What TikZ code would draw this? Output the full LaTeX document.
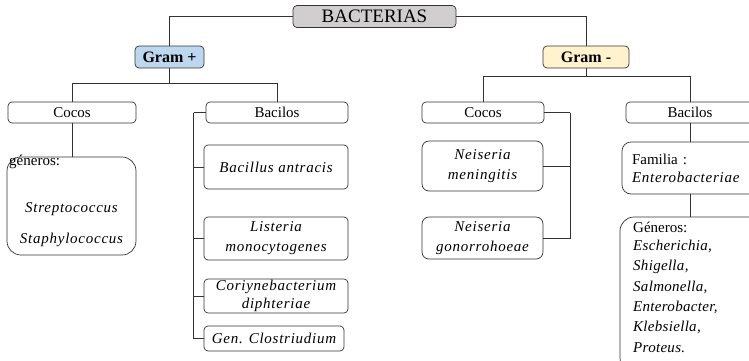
\documentclass[tikz,border=0pt]{standalone}
\usepackage{fontspec}
\setmainfont{Liberation Serif}
\newfontfamily\espfam[LetterSpace=5]{Liberation Serif}
\newfontfamily\espfamb[LetterSpace=2]{Liberation Serif}
\newcommand{\itsp}{\espfam\itshape}
\newcommand{\itspb}{\espfamb\itshape}
\usetikzlibrary{positioning, calc}
\definecolor{grisbox}{RGB}{208,206,206}
\definecolor{azulbox}{RGB}{189,215,238}
\definecolor{amarbox}{RGB}{255,242,204}

\begin{document}
\begin{tikzpicture}[x=1pt, y=-1pt,
    caja/.style={draw=black!80, rounded corners=4pt, line width=0.7pt, inner sep=0pt, align=center, font=\fontsize{15}{20}\selectfont},
    texto/.style={inner sep=0pt, font=\fontsize{15}{20}\selectfont},
    linea/.style={draw=black!80, line width=0.7pt}]
  \useasboundingbox (0,0) rectangle (749,360);

  \node[caja, fill=grisbox, minimum width=163pt, minimum height=22pt, font=\fontsize{19}{20}\selectfont] (bact) at (374.5,16.5) {BACTERIAS};
  \node[caja, fill=azulbox, minimum width=69pt, minimum height=22pt, font=\fontsize{16}{20}\selectfont\bfseries] (gpos) at (169.5,57) {Gram +};
  \node[caja, fill=amarbox, minimum width=86pt, minimum height=22pt, font=\fontsize{16}{20}\selectfont\bfseries] (gneg) at (586,57) {Gram -};

  \node[caja, minimum width=128pt, minimum height=21pt] (cocL) at (72,112.5) {Cocos};
  \node[caja, minimum width=142pt, minimum height=21pt] (bacL) at (277,112.5) {Bacilos};
  \node[caja, minimum width=122pt, minimum height=21pt] (cocR) at (483,112.5) {Cocos};
  \node[caja, minimum width=128pt, minimum height=21pt] (bacR) at (690,112.5) {Bacilos};

  \node[caja, rounded corners=14pt, minimum width=129pt, minimum height=98pt] (genL) at (71.5,206) {};
  \node[texto, anchor=base west] (genLtit) at (9,165) {géneros:};
  \node[texto, anchor=base] (strep) at (71.5,212) {\itsp Streptococcus};
  \node[texto, anchor=base] (staph) at (71.5,243) {\itsp Staphylococcus};

  \node[caja, minimum width=144pt, minimum height=44pt] (bac1) at (276,167) {\itsp Bacillus antracis};
  \node[caja, minimum width=144pt, minimum height=43pt] (bac2) at (276,238.5) {\itsp Listeria\\\itsp monocytogenes};
  \node[caja, minimum width=144pt, minimum height=34pt, font=\fontsize{15}{18}\selectfont] (bac3) at (276,296) {\itsp Coriynebacterium\\\itsp diphteriae};
  \node[caja, minimum width=140pt, minimum height=25pt] (bac4) at (274,338.5) {\itsp Gen. Clostriudium};

  \node[caja, rounded corners=7pt, minimum width=121pt, minimum height=50pt] (nei1) at (482.5,166) {\itsp Neiseria\\\itsp meningitis};
  \node[caja, rounded corners=7pt, minimum width=121pt, minimum height=42pt] (nei2) at (482.5,238) {\itsp Neiseria\\\itsp gonorrohoeae};

  \node[caja, rounded corners=9pt, minimum width=136pt, minimum height=52pt, inner xsep=10pt, text width=116pt, align=left, font=\fontsize{15}{18}\selectfont] (fam) at (690,168) {Familia :\\\itsp Enterobacteriae};
  \node[caja, rounded corners=14pt, minimum width=142pt, minimum height=155pt] (gen) at (691,294.5) {};
  \node[texto, anchor=base west, align=left] (gentxt) at (633,232) {Géneros:};
  \node[texto, anchor=north west, align=left, font=\fontsize{15}{20.3}\selectfont] (genlist) at (633,240) {\itspb Escherichia,\\\itspb Shigella,\\\itspb Salmonella,\\\itspb Enterobacter,\\\itspb Klebsiella,\\\itspb Proteus.};

  \draw[linea] (bact.west) -| (gpos.north);
  \draw[linea] (bact.east) -| (gneg.north);
  \draw[linea] (gpos.south) -- ++(0,15) coordinate (jpos);
  \draw[linea] (cocL.north) |- (jpos) -| (bacL.north);
  \draw[linea] (gneg.south) -- ++(0,8) coordinate (jneg);
  \draw[linea] (cocR.north) |- (jneg) -| (bacR.north);

  \draw[linea] (cocL.south) -- (cocL.south |- genL.north);
  \draw[linea] (bacL.west) -- ++(-12,0) coordinate (jbac);
  \draw[linea] (jbac) |- (bac4.west);
  \draw[linea] (jbac) |- (bac1.west);
  \draw[linea] (jbac) |- (bac2.west);
  \draw[linea] (jbac) |- (bac3.west);

  \draw[linea] (cocR.east) -- ++(26,0) coordinate (jnei);
  \draw[linea] (jnei) |- (nei2.east);
  \draw[linea] (jnei) |- (nei1.east);

  \draw[linea] (bacR.south) -- (fam.north);
  \draw[linea] (fam.south) -- (fam.south |- gen.north);
\end{tikzpicture}
\end{document}
